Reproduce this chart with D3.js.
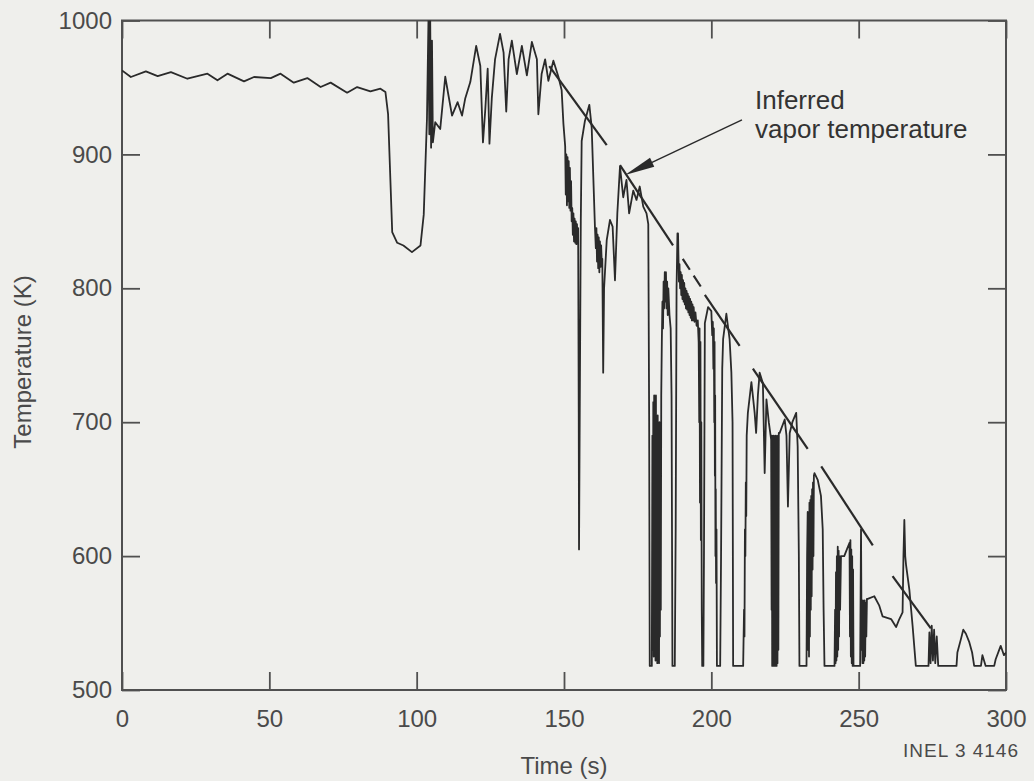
<!DOCTYPE html>
<html>
<head>
<meta charset="utf-8">
<script src="https://cdn.jsdelivr.net/npm/d3@7"></script>
<style>
  html, body { margin: 0; padding: 0; background: #efefec; }
  svg { display: block; }
</style>
</head>
<body>
<svg id="chart" width="1034" height="781"></svg>
<script>
// ---------------- data ----------------
const xTicks = [0, 50, 100, 150, 200, 250, 300];
const yTicks = [500, 600, 700, 800, 900, 1000];
const xLabel = "Time (s)";
const yLabel = "Temperature (K)";
const annotationLines = ["Inferred", "vapor temperature"];
const figureId = "INEL 3 4146";

// measured temperature trace [time (s), temperature (K)]
const measuredTrace = [
  [0,962.7],[3,957.8],[8.1,962],[12.1,958.5],[16.6,961.5],[22.2,956.5],[29,960.3],[32.4,955.3],
  [35.8,960.3],[41.4,954.5],[44.8,957.8],[50.5,957],[53.8,960.3],[58.3,953.6],[62.9,957],[67.4,950.3],
  [70.8,953.6],[76.4,946.1],[79.8,950.3],[84.3,947.1],[87.7,949.1],[89.4,946.6],[90.3,930],[91.7,842],
  [93.4,834],[95.5,832],[98.4,827],[101.3,832],[102.4,855],[103.5,927],[104,1000],[104.3,915],
  [104.6,1000],[104.9,905],[105.2,985],[105.5,909],[106.3,924],[108,919],[109.7,958],[110.8,944],
  [112,929],[113.9,939],[115.4,929],[116.5,942],[118.2,954],[120.2,981],[121.6,966],[122.5,909],
  [123.3,934],[124.1,964],[124.7,908],[125.5,942],[126.6,971],[128.3,990],[129.5,976],[130.4,932],
  [131.2,971],[132.3,985],[134,960],[135.7,981],[137.4,959],[139.1,984],[140.8,971],[141.3,930],
  [142.4,960],[143.6,971],[144.7,955],[146.4,970],[148.1,958],[149.2,948],[149.8,923],[150.4,906],
  [150.6,870],[150.8,900],[151,862],[151.2,898],[151.4,865],[151.6,895],[151.8,860],[152,890],
  [152.2,858],[152.4,880],[152.6,850],[152.8,860],[153,840],[153.2,856],[153.4,835],[153.6,852],
  [153.8,834],[154,850],[154.2,833],[154.4,848],[154.6,835],[154.8,845],[155,707],[155.1,605],
  [155.3,690],[155.7,850],[156,910],[157.1,925],[158.6,937],[159.4,920],[160.5,846],[160.8,830],
  [161,845],[161.2,820],[161.4,840],[161.6,815],[161.8,838],[162,812],[162.2,835],[162.4,816],
  [162.6,832],[162.8,820],[163,822],[163.3,737],[163.6,800],[164.5,836],[165.6,851],[166.5,846],
  [167.3,806],[168.1,856],[169,891],[170.1,868],[171.2,881],[172.1,856],[173.5,873],[174.6,866],
  [175.7,876],[176.9,861],[178,856],[178.6,848],[178.9,700],[179.1,518],[179.8,518],[180,690],
  [180.15,530],[180.3,715],[180.45,525],[180.6,720],[180.75,530],[180.9,710],[181.05,522],[181.2,720],
  [181.35,530],[181.5,700],[181.65,520],[181.8,705],[181.95,525],[182.1,690],[182.25,520],[182.4,700],
  [182.55,540],[182.7,680],[182.85,560],[183,720],[183.2,760],[183.4,790],[183.6,770],[183.8,805],
  [184,785],[184.2,812],[184.4,790],[184.6,812],[184.8,785],[185,805],[185.2,780],[185.4,800],
  [185.8,780],[186.2,770],[186.5,720],[186.8,518],[187.6,518],[187.9,620],[188.2,800],[188.5,841],
  [188.7,841],[189,805],[189.2,818],[189.4,800],[189.6,812],[189.8,795],[190,810],[190.2,792],
  [190.4,806],[190.6,790],[190.8,804],[191,788],[191.2,800],[191.4,785],[191.6,798],[191.8,784],
  [192,796],[192.2,782],[192.4,794],[192.6,780],[192.8,792],[193,778],[193.2,790],[193.4,776],
  [193.6,788],[193.8,776],[194,786],[194.3,775],[194.6,782],[195,772],[195.4,776],[195.7,760],
  [195.9,700],[196,770],[196.15,640],[196.3,760],[196.45,612],[196.6,700],[196.75,560],[196.9,518],
  [197.3,518],[197.5,600],[197.8,774],[198.9,786],[200,783],[200.3,765],[200.5,775],[200.7,740],
  [200.85,770],[201,700],[201.1,760],[201.2,660],[201.3,720],[201.4,600],[201.5,650],[201.6,580],
  [201.75,620],[201.9,518],[203,518],[203.3,600],[203.7,740],[204,762],[205.1,781],[206.2,762],
  [206.8,737],[207.2,700],[207.4,518],[210.8,518],[211.1,560],[211.25,540],[211.4,620],[211.55,600],
  [211.7,655],[211.85,630],[212,690],[212.4,707],[213.6,730],[214.7,707],[215.2,692],[215.8,720],
  [216.4,737],[217.5,729],[218.1,662],[218.7,717],[219.5,700],[220.3,687],[220.45,560],[220.55,690],
  [220.65,518],[220.8,688],[220.95,518],[221.1,690],[221.25,518],[221.4,685],[221.55,518],[221.7,690],
  [221.85,518],[222,680],[222.15,518],[222.3,690],[222.45,520],[222.6,680],[222.75,530],[222.9,692],
  [223.2,692],[224.9,702],[225.5,690],[226,637],[226.6,692],[227.5,700],[228.8,707],[229.3,682],
  [229.7,600],[229.9,518],[232.3,518],[232.5,600],[232.7,633],[232.85,530],[233,630],[233.15,525],
  [233.3,640],[233.45,540],[233.6,642],[233.75,560],[233.9,645],[234.05,570],[234.2,650],[234.35,590],
  [234.5,655],[234.65,600],[234.8,660],[235,662],[236.1,657],[237.2,645],[237.8,620],[238.1,560],
  [238.4,518],[241.8,518],[242,560],[242.15,520],[242.3,588],[242.45,522],[242.6,600],[242.75,525],
  [242.9,607],[243.05,530],[243.2,604],[243.35,540],[243.5,600],[243.7,560],[244,600],[245.1,600],
  [246,605],[246.9,610],[247.05,540],[247.2,612],[247.35,525],[247.5,605],[247.65,520],[247.8,600],
  [247.95,518],[248.1,590],[248.25,518],[250.5,518],[250.8,620],[251,530],[251.15,565],[251.3,520],
  [251.45,567],[251.6,520],[251.75,565],[251.9,522],[252.05,567],[252.2,525],[252.4,565],[252.6,540],
  [252.8,568],[253.1,568],[255.3,570],[257,563],[258.1,555],[261,553],[262.7,547],[263.8,553],
  [264.9,558],[265.2,600],[265.5,627],[265.8,600],[266.1,593],[267.2,575],[268.3,548],[269.4,518],
  [273.7,518],[274,543],[274.4,520],[274.8,548],[275.2,522],[275.6,545],[276,520],[276.5,540],
  [277,518],[283.2,518],[283.5,528],[284.7,538],[285.5,545],[286.4,542],[287.5,536],[288.5,528],
  [289.2,518],[291.5,518],[292,526],[293.1,518],[296,518],[296.5,523],[298.2,533],[299.3,526],
  [300,528]
];

// inferred vapor temperature segments [[t0,T0],[t1,T1]]
const vaporSolid = [
  [[145,966],[164.5,907]],
  [[169,892],[187,832]],
  [[197.8,795],[209.6,757]],
  [[214.1,740],[232.7,680]],
  [[237.3,667],[254.8,608]],
  [[261.5,585],[274.5,546]]
];
const vaporDashed = [
  [[190.3,822],[196.5,801]]
];
// annotation arrow: tail and tip in data units
const arrowTail = [210.4, 925.7];
const arrowTip = [170.7, 884.6];

// ---------------- drawing ----------------
const svg = d3.select("#chart");
const plotL = 122, plotR = 1006, plotT = 20.5, plotB = 690;
const x = d3.scaleLinear().domain([0, 300]).range([plotL, plotR]);
const y = d3.scaleLinear().domain([500, 1000]).range([plotB, plotT]);

const ink = "#2a2a2a";
const textInk = "#4a4a4a";
const font = "'Liberation Sans', Arial, sans-serif";

svg.append("defs").append("clipPath").attr("id", "plotClip")
  .append("rect").attr("x", plotL).attr("y", plotT).attr("width", plotR - plotL).attr("height", plotB - plotT);

// axes
const gx = svg.append("g").attr("transform", `translate(0,${plotB})`)
  .call(d3.axisBottom(x).tickValues(xTicks).tickSize(-18).tickPadding(20).tickFormat(d3.format("d")));
const gy = svg.append("g").attr("transform", `translate(${plotL},0)`)
  .call(d3.axisLeft(y).tickValues(yTicks).tickSize(-18).tickPadding(10).tickFormat(d3.format("d")));
const gxt = svg.append("g").attr("transform", `translate(0,${plotT})`)
  .call(d3.axisTop(x).tickValues(xTicks).tickSize(-18).tickFormat(""));
const gyr = svg.append("g").attr("transform", `translate(${plotR},0)`)
  .call(d3.axisRight(y).tickValues(yTicks).tickSize(-18).tickFormat(""));

[gx, gy, gxt, gyr].forEach(g => {
  g.select(".domain").remove();
  g.selectAll(".tick line").attr("stroke", "#505050").attr("stroke-width", 1.8);
  g.selectAll(".tick text").attr("fill", textInk).attr("font-family", font).attr("font-size", 24);
});

// frame
svg.append("rect").attr("x", plotL).attr("y", plotT).attr("width", plotR - plotL).attr("height", plotB - plotT)
  .attr("fill", "none").attr("stroke", "#505050").attr("stroke-width", 2);

// trace
const line = d3.line().x(d => x(d[0])).y(d => y(d[1]));
svg.append("path").datum(measuredTrace)
  .attr("clip-path", "url(#plotClip)")
  .attr("d", line).attr("fill", "none").attr("stroke", ink)
  .attr("stroke-width", 1.8).attr("stroke-linejoin", "round");

// vapor temperature lines
svg.append("g").selectAll("path").data(vaporSolid).join("path")
  .attr("d", line).attr("fill", "none").attr("stroke", ink).attr("stroke-width", 2.2);
svg.append("g").selectAll("path").data(vaporDashed).join("path")
  .attr("d", line).attr("fill", "none").attr("stroke", ink).attr("stroke-width", 2.2)
  .attr("stroke-dasharray", "13,7");

// arrow
const tx = x(arrowTail[0]), ty = y(arrowTail[1]);
const hx = x(arrowTip[0]), hy = y(arrowTip[1]);
const ang = Math.atan2(hy - ty, hx - tx);
const headLen = 30, headW = 5;
svg.append("line").attr("x1", tx).attr("y1", ty)
  .attr("x2", hx - Math.cos(ang) * headLen * 0.8).attr("y2", hy - Math.sin(ang) * headLen * 0.8)
  .attr("stroke", ink).attr("stroke-width", 1.4);
const bx = hx - Math.cos(ang) * headLen, by = hy - Math.sin(ang) * headLen;
const px = -Math.sin(ang) * headW, py = Math.cos(ang) * headW;
svg.append("path")
  .attr("d", `M${hx},${hy}L${bx + px},${by + py}L${bx - px},${by - py}Z`)
  .attr("fill", ink);

// annotation text
svg.append("g").selectAll("text").data(annotationLines).join("text")
  .attr("x", 755).attr("y", (d, i) => 109 + i * 29)
  .attr("font-family", font).attr("font-size", 26).attr("fill", "#333")
  .text(d => d);

// axis titles
svg.append("text").attr("x", (plotL + plotR) / 2).attr("y", 774)
  .attr("text-anchor", "middle").attr("font-family", font).attr("font-size", 24)
  .attr("fill", textInk).text(xLabel);
svg.append("text").attr("transform", "translate(31,362) rotate(-90)")
  .attr("text-anchor", "middle").attr("font-family", font).attr("font-size", 24)
  .attr("fill", textInk).text(yLabel);
svg.append("text").attr("x", 1019).attr("y", 757)
  .attr("text-anchor", "end").attr("font-family", font).attr("font-size", 19)
  .attr("letter-spacing", 1).attr("fill", textInk).text(figureId);
</script>
</body>
</html>
